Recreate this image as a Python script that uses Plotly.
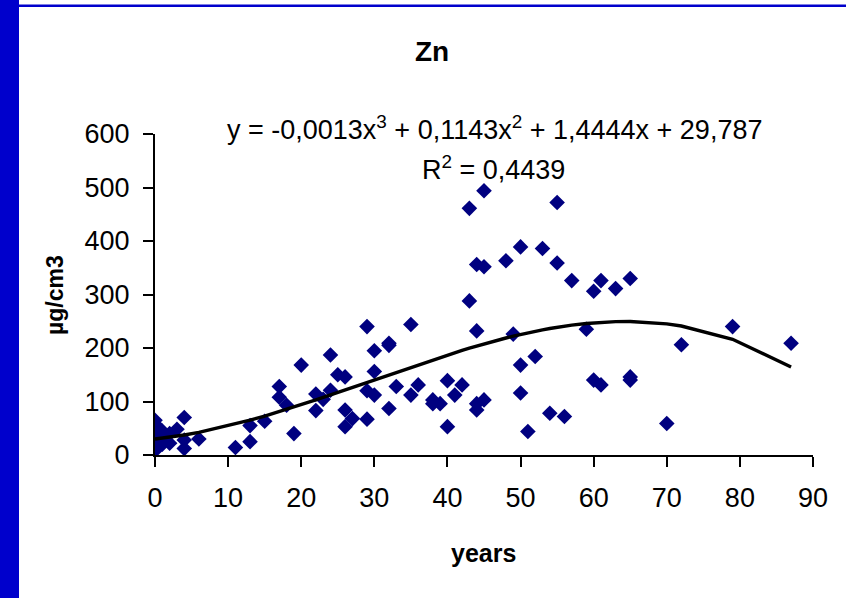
import plotly.graph_objects as go

# Zn concentration versus age
years = [0, 0, 0, 0, 0, 0, 0, 0, 1, 1, 1, 0,
         2, 2, 3, 4, 4, 4, 6, 11, 13, 13, 15, 17, 17, 18, 19, 20,
         22, 22, 23, 24, 24, 25, 26, 26, 27, 26, 29, 29, 30, 30, 30, 29,
         32, 32, 32, 33, 35, 35, 36, 38, 39, 38, 40, 40, 41, 42,
         43, 45, 43, 44, 45, 44, 44, 44, 45, 48, 50, 49, 50, 50, 51,
         55, 53, 55, 57, 60, 61, 63, 65, 59, 52, 54, 56, 60, 61, 65, 65,
         70, 72, 79, 87]
zn = [65, 58, 50, 40, 32, 25, 18, 12, 45, 30, 20, 8,
      22, 40, 48, 70, 28, 12, 30, 14, 55, 25, 63, 128, 108, 93, 40, 168,
      114, 83, 104, 121, 187, 150, 146, 84, 68, 53, 240, 120, 112, 195, 156, 67,
      209, 205, 87, 128, 244, 112, 131, 103, 96, 96, 139, 53, 112, 131,
      461, 494, 288, 356, 352, 232, 96, 84, 103, 363, 389, 226, 168, 116, 44,
      472, 386, 359, 326, 306, 326, 311, 330, 235, 184, 78, 72, 140, 131, 146, 140,
      59, 206, 240, 209]

# cubic trend coefficients (highest power first)
coef = [-0.0013, 0.1143, 1.4444, 29.787]
r_squared = "0,4439"

x_ticks = list(range(0, 91, 10))
y_ticks = list(range(0, 601, 100))

trend_x = sorted(set(years))
trend_y = [((coef[0] * x + coef[1]) * x + coef[2]) * x + coef[3] for x in trend_x]

FONT = "Liberation Sans, Arial, sans-serif"

# plot area in pixels
L, R, T, B = 155, 813, 134, 455
W, H = R - L, B - T


def px(x):
    return (x - L) / W


def py(y):
    return (B - y) / H


fig = go.Figure()
fig.add_trace(go.Scatter(
    x=years, y=zn, mode="markers",
    marker=dict(symbol="diamond", size=12, color="#000080",
                line=dict(width=0)),
    showlegend=False, hoverinfo="x+y"))
fig.add_trace(go.Scatter(
    x=trend_x, y=trend_y, mode="lines",
    line=dict(color="black", width=3.4),
    showlegend=False, hoverinfo="skip"))

axis_common = dict(showgrid=False, zeroline=False, showline=True,
                   linecolor="black", linewidth=2, ticks="outside",
                   ticklen=10, tickwidth=2, tickcolor="black",
                   tickfont=dict(size=27))

fig.update_layout(
    width=846, height=598,
    margin=dict(l=L, r=846 - R, t=T, b=598 - B),
    paper_bgcolor="white", plot_bgcolor="white",
    font=dict(family=FONT, color="black", size=27),
    xaxis=dict(range=[0, 90], tickvals=x_ticks, ticklabelstandoff=8,
               **axis_common),
    yaxis=dict(range=[0, 600], tickvals=y_ticks, ticklabelstandoff=8,
               **axis_common),
    shapes=[
        # blue frame: left bar and top rule
        dict(type="rect", xref="paper", yref="paper",
             x0=px(-5), x1=px(19), y0=py(605), y1=py(-5),
             fillcolor="#0000CC", line=dict(width=0), layer="above"),
        dict(type="rect", xref="paper", yref="paper",
             x0=px(19), x1=px(851), y0=py(7), y1=py(4.5),
             fillcolor="#0000CC", line=dict(width=0), layer="above"),
    ],
    annotations=[
        dict(text="<b>Zn</b>", xref="paper", yref="paper",
             x=px(432), y=py(52), xanchor="center", yanchor="middle",
             showarrow=False, font=dict(size=28)),
        dict(text="y = -0,0013x<sup>3</sup> + 0,1143x<sup>2</sup> + 1,4444x + 29,787",
             xref="paper", yref="paper", x=px(494), y=py(128),
             xanchor="center", yanchor="middle", showarrow=False,
             font=dict(size=27)),
        dict(text="R<sup>2</sup> = " + r_squared,
             xref="paper", yref="paper", x=px(493), y=py(168),
             xanchor="center", yanchor="middle", showarrow=False,
             font=dict(size=27)),
        dict(text="<b>years</b>", xref="paper", yref="paper",
             x=px(483), y=py(553), xanchor="center", yanchor="middle",
             showarrow=False, font=dict(size=25)),
        dict(text="<b>µg/cm3</b>", xref="paper", yref="paper",
             x=px(55), y=py(295), xanchor="center", yanchor="middle",
             textangle=-90, showarrow=False, font=dict(size=23)),
    ],
)

fig.write_html("out.html")
